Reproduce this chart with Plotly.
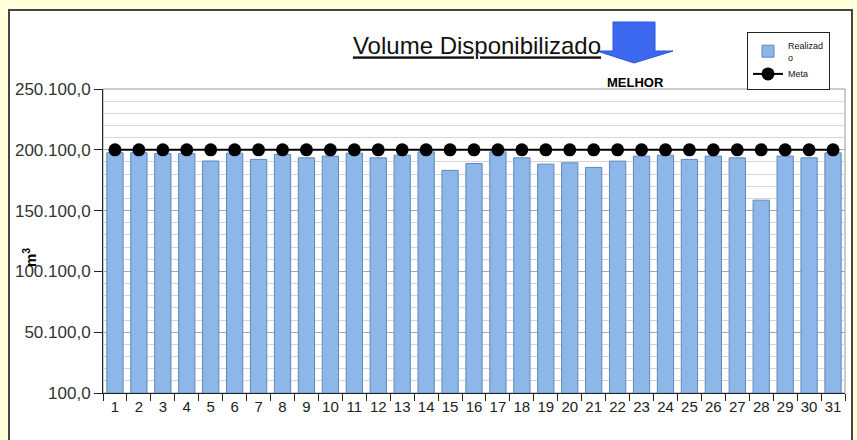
import plotly.graph_objects as go

# ---- data ----
dias = [str(d) for d in range(1, 32)]
realizado = [197700, 197700, 197000, 197000, 190900, 197300, 192200, 196300, 193500, 194900,
             197300, 193500, 195700, 198400, 183200, 188800, 198400, 193500, 188300, 189400,
             185600, 190800, 194900, 195700, 192200, 194900, 193500, 158700, 194900, 193500,
             197600]
meta = [200100] * 31
y_ticks = [100, 50100, 100100, 150100, 200100, 250100]
titulo = "Volume Disponibilizado"
nome_realizado = "Realizad<br>o"
nome_meta = "Meta"

# ---- geometry helpers (pixel -> paper) ----
W, H = 857, 440
L, R, T, B = 103, 12, 89, 47
PW, PH = W - L - R, H - T - B


def px(x):
    return (x - L) / PW


def py(y):
    return (H - B - y) / PH


fig = go.Figure()
fig.add_trace(go.Bar(
    x=dias, y=realizado, name=nome_realizado,
    marker=dict(color="#8DB7E8", line=dict(color="#5F88BD", width=1)),
    width=0.68,
))
fig.add_trace(go.Scatter(
    x=dias, y=meta, name=nome_meta, mode="lines+markers",
    line=dict(color="black", width=2),
    marker=dict(color="black", size=13),
))

shapes = [
    # white panel with dark border
    dict(type="rect", xref="paper", yref="paper",
         x0=px(9), x1=px(852), y0=py(448), y1=py(10),
         fillcolor="white", line=dict(color="#454545", width=2), layer="below"),
    # plot area frame
    dict(type="rect", xref="paper", yref="paper", x0=0, x1=1, y0=0, y1=1,
         line=dict(color="#9A9A9A", width=1), layer="below"),
    # blue arrow "melhor"
    dict(type="path", xref="paper", yref="paper",
         path=(f"M {px(613)},{py(22)} L {px(655)},{py(22)} L {px(655)},{py(51)} "
               f"L {px(673)},{py(51)} L {px(634)},{py(63)} L {px(597)},{py(51)} "
               f"L {px(613)},{py(51)} Z"),
         fillcolor="#3B68EE", line=dict(color="#2D57D8", width=1), layer="above"),
]

annotations = [
    dict(text="<b>MELHOR</b>", xref="paper", yref="paper", x=px(635), y=py(82),
         showarrow=False, font=dict(family="Liberation Sans, Arial", size=13, color="black"),
         xanchor="center", yanchor="middle"),
    dict(text="<b>m<sup>3</sup></b>", xref="paper", yref="paper", x=px(29), y=py(258),
         showarrow=False, textangle=-90,
         font=dict(family="Liberation Sans, Arial", size=15, color="black"),
         xanchor="center", yanchor="middle"),
]

fig.update_layout(
    width=W, height=H,
    margin=dict(l=L, r=R, t=T, b=B, pad=0, autoexpand=False),
    paper_bgcolor="#FFFFDA", plot_bgcolor="white",
    separators=",.",
    title=dict(text=f"<u>{titulo}</u>", x=477 / W, xanchor="center",
               y=1 - 46 / H, yanchor="middle", automargin=False,
               font=dict(family="Liberation Sans, Arial", size=24, color="#111111")),
    font=dict(family="Liberation Sans, Arial", color="#222222"),
    shapes=shapes,
    annotations=annotations,
    showlegend=True,
    legend=dict(x=px(747), y=py(32), xanchor="left", yanchor="top",
                bgcolor="white", bordercolor="#222222", borderwidth=1,
                font=dict(size=9, color="#111111"), tracegroupgap=0,
                itemwidth=30),
    bargap=0.3,
)

fig.update_xaxes(
    type="category", range=[-0.5, 30.5], tickson="boundaries", ticks="outside", ticklen=7,
    tickcolor="#222222", showline=True, linecolor="#222222", linewidth=1,
    showgrid=False, automargin=False, tickangle=0,
    tickfont=dict(family="Liberation Sans, Arial", size=15, color="#222222"),
)
fig.update_yaxes(
    range=[100, 250100], tickmode="array", tickvals=y_ticks, tickformat=",.1f",
    ticks="outside", ticklen=8, tickcolor="#222222", automargin=False,
    showline=True, linecolor="#222222", linewidth=1,
    showgrid=True, gridcolor="#A8A8A8", gridwidth=1,
    minor=dict(dtick=10000, tick0=100, showgrid=True, gridcolor="#D6D6D6", gridwidth=1),
    tickfont=dict(family="Liberation Sans, Arial", size=17, color="#333333"),
    zeroline=False,
)

fig.write_html("out.html", config={"displayModeBar": False},
               post_script="document.body.style.margin='0';")
